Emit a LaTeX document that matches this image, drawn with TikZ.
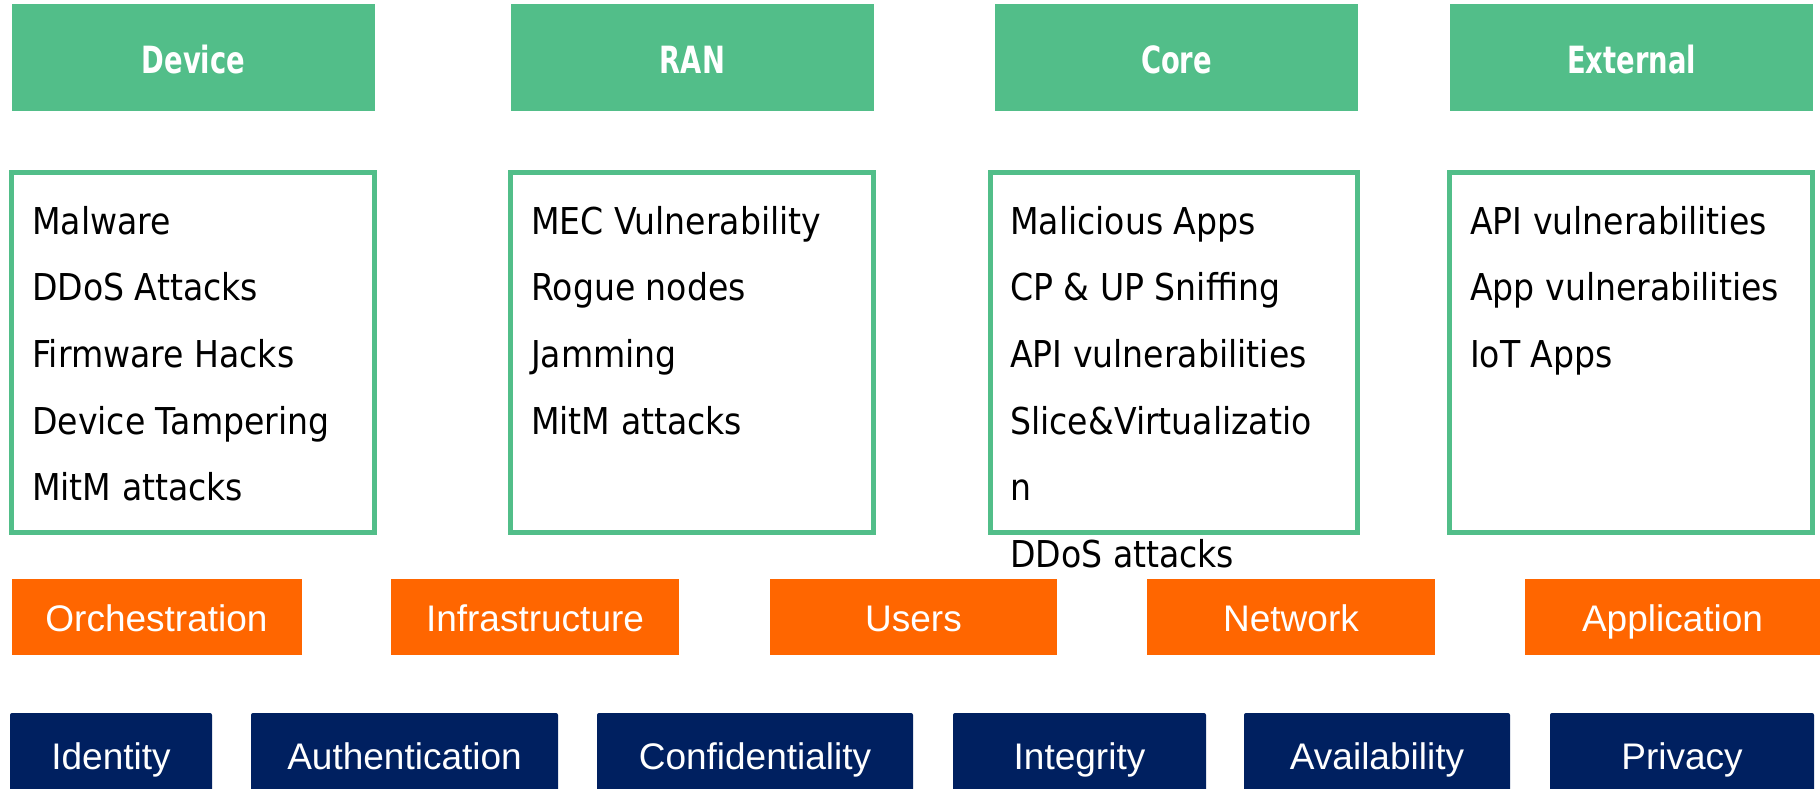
\documentclass[tikz,border=0pt]{standalone}
\usepackage{fontspec}
\setmainfont{Liberation Sans}
\newfontfamily\itemfont[FakeStretch=0.895]{DejaVu Sans}
\newfontfamily\hdrfont[FakeStretch=0.73]{DejaVu Sans Bold}
\definecolor{hgreen}{HTML}{52BE89}
\definecolor{horange}{HTML}{FF6600}
\definecolor{hnavy}{HTML}{002060}
\tikzset{
  hdr/.style={fill=hgreen, draw=none, inner sep=0pt, text=white,
    font=\hdrfont\fontsize{37.5}{44}\selectfont, text height=32pt, text depth=0pt},
  listbox/.style={draw=hgreen, line width=5pt, fill=white},
  item/.style={inner sep=0pt, anchor=base west, font=\itemfont\fontsize{37}{44}\selectfont},
  obox/.style={fill=horange, draw=none, inner sep=0pt, text=white,
    font=\fontsize{37}{44}\selectfont, text height=28.5pt, text depth=0pt},
  nbox/.style={fill=hnavy, draw=none, inner sep=0pt, text=white, rounded corners=2pt,
    font=\fontsize{37}{44}\selectfont, text height=33pt, text depth=0pt}
}
\begin{document}
\begin{tikzpicture}[x=1pt,y=-1pt]
\useasboundingbox (0,0) rectangle (1820,789);
% headers
\node[hdr, minimum width=363pt, minimum height=107pt] (hdev) at (193.5,57.5) {Device};
\node[hdr, minimum width=363pt, minimum height=107pt] (hran) at (692.5,57.5) {RAN};
\node[hdr, minimum width=363pt, minimum height=107pt] (hcore) at (1176.5,57.5) {Core};
\node[hdr, minimum width=363pt, minimum height=107pt] (hext) at (1631.5,57.5) {External};
% list boxes
\draw[listbox] (11.5,172.5) rectangle (374.5,532.5);
\draw[listbox] (510.5,172.5) rectangle (873.5,532.5);
\draw[listbox] (990.5,172.5) rectangle (1357.5,532.5);
\draw[listbox] (1449.5,172.5) rectangle (1812.5,532.5);
% Device items
\node[item] (d1) at (32,234) {Malware};
\node[item] (d2) at (32,300.7) {DDoS Attacks};
\node[item] (d3) at (32,367.4) {Firmware Hacks};
\node[item] (d4) at (32,434) {Device Tampering};
\node[item] (d5) at (32,500.7) {MitM attacks};
% RAN items
\node[item] (r1) at (531,234) {MEC Vulnerability};
\node[item] (r2) at (531,300.7) {Rogue nodes};
\node[item] (r3) at (531,367.4) {Jamming};
\node[item] (r4) at (531,434) {MitM attacks};
% Core items
\node[item] (c1) at (1010,234) {Malicious Apps};
\node[item] (c2) at (1010,300.7) {CP \& UP Sniffing};
\node[item] (c3) at (1010,367.4) {API vulnerabilities};
\node[item] (c4) at (1010,434) {Slice\&Virtualizatio};
\node[item] (c5) at (1010,500.7) {n};
\node[item] (c6) at (1010,567.4) {DDoS attacks};
% External items
\node[item] (e1) at (1470,234) {API vulnerabilities};
\node[item] (e2) at (1470,300.7) {App vulnerabilities};
\node[item] (e3) at (1470,367.4) {IoT Apps};
% orange row
\node[obox, minimum width=290pt, minimum height=76pt] (o1) at (156.5,617) {Orchestration};
\node[obox, minimum width=288pt, minimum height=76pt] (o2) at (535,617) {Infrastructure};
\node[obox, minimum width=287pt, minimum height=76pt] (o3) at (913.5,617) {Users};
\node[obox, minimum width=288pt, minimum height=76pt] (o4) at (1291,617) {Network};
\node[obox, minimum width=295pt, minimum height=76pt] (o5) at (1672.5,617) {Application};
% navy row
\node[nbox, minimum width=202pt, minimum height=80pt] (n1) at (111,753) {Identity};
\node[nbox, minimum width=307pt, minimum height=80pt] (n2) at (404.5,753) {Authentication};
\node[nbox, minimum width=316pt, minimum height=80pt] (n3) at (755,753) {Confidentiality};
\node[nbox, minimum width=253pt, minimum height=80pt] (n4) at (1079.5,753) {Integrity};
\node[nbox, minimum width=266pt, minimum height=80pt] (n5) at (1377,753) {Availability};
\node[nbox, minimum width=264pt, minimum height=80pt] (n6) at (1682,753) {Privacy};
\end{tikzpicture}
\end{document}
